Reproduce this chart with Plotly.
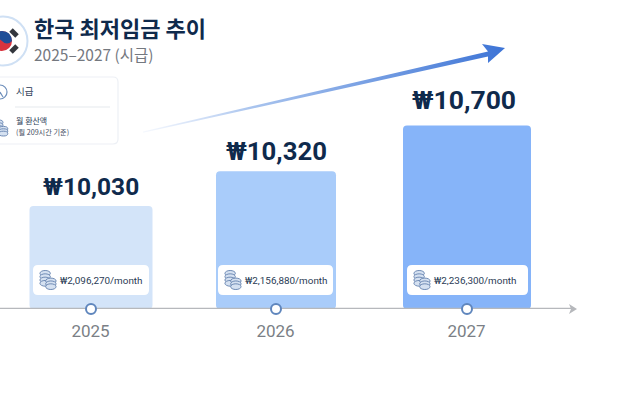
import plotly.graph_objects as go

# data
years = ["2025", "2026", "2027"]
hourly = [10030, 10320, 10700]
monthly = ["₩2,096,270/month", "₩2,156,880/month", "₩2,236,300/month"]
hourly_labels = ["₩10,030", "₩10,320", "₩10,700"]
title = "한국 최저임금 추이"
subtitle = "2025–2027 (시급)"

# layout constants (px-based x axis)
centers = [91, 276, 467]
widths = [123, 120, 128]
colors = ["#D3E4F9", "#A9CCFA", "#86B4F9"]
label_sizes = [24.5, 25.7, 26.5]
label_xshift = [-0.5, 0, -3]
label_yshift = [3, 3, 9]
BASE = 9172
TOP = 11745
PLOT_B = 309
W, H = 640, 400
NAVY = "#0F2A4C"


def Y(py):  # pixel row -> value axis
    return BASE + (PLOT_B - py) * (TOP - BASE) / PLOT_B


fx = lambda p: p / W
fy = lambda p: 1 - p / PLOT_B

shapes = []
annots = []


def rrect_pixel(x0, y0, x1, y1, r):
    a, b = -y0, -y1
    return (f"M{x0+r},{a} L{x1-r},{a} Q{x1},{a} {x1},{a-r} L{x1},{b+r} Q{x1},{b} {x1-r},{b} "
            f"L{x0+r},{b} Q{x0},{b} {x0},{b+r} L{x0},{a-r} Q{x0},{a} {x0+r},{a} Z")


def pxpath(d, fill="rgba(0,0,0,0)", line="rgba(0,0,0,0)", lw=0):
    shapes.append(dict(type="path", xsizemode="pixel", ysizemode="pixel", xanchor=0, yanchor=1,
                       xref="paper", yref="paper", layer="above", path=d,
                       fillcolor=fill, line=dict(color=line, width=lw)))


def pix_rect(x0, y0, x1, y1, r, fill, line="rgba(0,0,0,0)", lw=0):
    pxpath(rrect_pixel(x0, y0, x1, y1, r), fill, line, lw)


def circ(cx, cy, rx, fill, line="rgba(0,0,0,0)", lw=0, ry=None):
    ry = rx if ry is None else ry
    shapes.append(dict(type="circle", xref="paper", yref="paper", layer="above",
                       x0=fx(cx - rx), x1=fx(cx + rx), y0=fy(cy + ry), y1=fy(cy - ry),
                       fillcolor=fill, line=dict(color=line, width=lw)))


def seg(x0, y0, x1, y1, color, lw):
    shapes.append(dict(type="line", xref="paper", yref="paper", layer="above",
                       x0=fx(x0), x1=fx(x1), y0=fy(y0), y1=fy(y1), line=dict(color=color, width=lw)))


def text(x, y, s, size, color, bold=False, anchor="left", family="Noto Sans CJK KR"):
    annots.append(dict(xref="paper", yref="paper", x=fx(x), y=fy(y), text=f"<b>{s}</b>" if bold else s,
                       showarrow=False, xanchor=anchor, yanchor="middle", xshift=-2,
                       font=dict(size=size, color=color, family=family)))


def coin(cx, cy, scale=1.0, col="#6F8BB5"):
    for dx, dy in [(-3, -7), (-3, -3.5), (-3, 0), (-3, 3.5), (3, 1), (3, 4), (3, 7)]:
        circ(cx + dx * scale, cy + dy * scale, 5.5 * scale, "#D5E1F1", col, 1, ry=3 * scale)


fig = go.Figure()
fig.add_bar(x=centers, y=[v - BASE for v in hourly], base=BASE, width=widths,
            marker=dict(color=colors, line=dict(width=0), cornerradius=4), showlegend=False)

# gradient arrow
tx, ty, nx, ny = 143, 132, 488, 54
poly_x = [tx, nx, 482, 505, 488, nx, tx]
poly_y = [ty - 0.6, ny - 2.5, 44, 48, 63, ny + 2.5, ty + 0.8]
fig.add_scatter(x=poly_x, y=[Y(p) for p in poly_y], mode="lines", fill="toself", line=dict(width=0),
                fillgradient=dict(type="horizontal", start=tx, stop=505,
                                  colorscale=[[0, "rgba(190,210,245,0.15)"], [0.3, "#A9C4EE"], [1, "#3D74D6"]]),
                hoverinfo="skip", showlegend=False, cliponaxis=False)

# axis line + markers
fig.add_scatter(x=[0, 572], y=[BASE, BASE], mode="lines", line=dict(color="#B6B8BC", width=2.5),
                hoverinfo="skip", showlegend=False, cliponaxis=False)
fig.add_scatter(x=centers, y=[BASE] * 3, mode="markers", hoverinfo="skip", showlegend=False, cliponaxis=False,
                marker=dict(size=10, color="white", line=dict(color="#5F86BD", width=2)))

# axis arrowhead
pxpath("M569,-304 L577,-309 L569,-314 L571,-309 Z", fill="#B6B8BC")

# value labels
for c, v, s, sz, dx, dy in zip(centers, hourly, hourly_labels, label_sizes, label_xshift, label_yshift):
    annots.append(dict(x=c, y=v, xref="x", yref="y", text=f"<b>{s}</b>", showarrow=False, yanchor="bottom",
                       xshift=dx, yshift=dy, font=dict(size=sz, color=NAVY, family="Roboto")))

# pills
pills = [(33, 149), (218, 333), (407, 528)]
for (x0, x1), m in zip(pills, monthly):
    pix_rect(x0, 265, x1, 295, 5, "white")
    coin(x0 + 15, 280, 0.95)
    text(x0 + 27, 280.5, m, 9.9, "#2A3B55", family="Roboto")

# title block
circ(3, 41, 24.5, "white", "#CFE0F4", 2)
circ(2, 41, 10, "#D8343F")
pxpath("M-8,-41 Q-3,-36 2,-41 Q7,-46 12,-41 Q11,-31 2,-31 Q-7,-31 -8,-41 Z", fill="#1F4E98")
seg(11, 30, 17, 36, "#33363D", 5)
seg(11, 52, 17, 46, "#33363D", 5)

text(34, 27, title, 22, NAVY, bold=True)
text(34, 53.5, subtitle, 15.5, "#74787F")

# legend card
pix_rect(-8, 77, 118, 144, 5, "white", "#EDF0F5", 1.2)
circ(0, 92, 7, "white", "#6E8FBB", 1.2)
seg(0, 92, 3, 97, "#6E8FBB", 1.2)
text(16, 91, "시급", 9.5, "#2A3B55")
seg(15, 107, 110, 107, "#EEF0F3", 1.5)
coin(1, 128, 0.8)
text(16, 120, "월 환산액", 8, "#2A3B55")
text(16, 132, "(월 209시간 기준)", 7.2, "#3F4B60")

fig.update_layout(
    width=W, height=H, margin=dict(l=0, r=0, t=0, b=H - PLOT_B), paper_bgcolor="white", plot_bgcolor="rgba(0,0,0,0)",
    xaxis=dict(range=[0, W], tickvals=[c - 0.5 for c in centers], ticktext=years, showgrid=False, zeroline=False,
               showline=False, ticks="", ticklabelstandoff=10,
               tickfont=dict(size=17, color="#7B7F86", family="Roboto")),
    yaxis=dict(range=[BASE, TOP], visible=False),
    shapes=shapes, annotations=annots, showlegend=False,
)
fig.write_html("out.html", config=dict(displayModeBar=False),
               post_script="document.body.style.margin='0';document.documentElement.style.overflow='hidden';")
